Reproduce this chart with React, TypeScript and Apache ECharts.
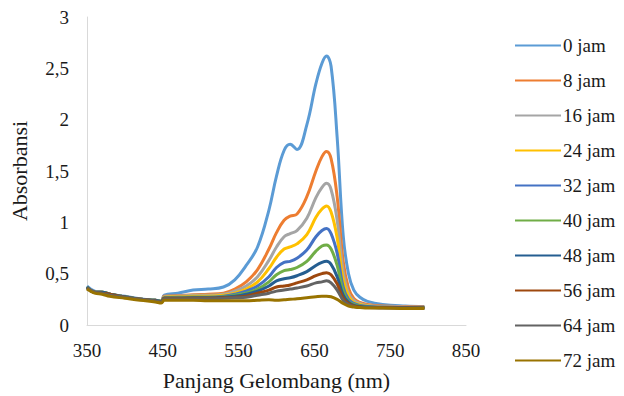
import React, { useEffect, useRef } from "react";
import * as echarts from "echarts";

const wavelengths = [350, 360, 370, 380, 400, 420, 440, 448, 452, 470, 490, 510, 530, 545, 560, 575, 590, 600, 610, 618, 627, 640, 652, 660, 666, 672, 680, 688, 695, 702, 710, 720, 740, 770, 795];

const seriesNames = ["0 jam", "8 jam", "16 jam", "24 jam", "32 jam", "40 jam", "48 jam", "56 jam", "64 jam", "72 jam"];
const seriesColors = ["#5B9BD5", "#ED7D31", "#A5A5A5", "#FFC000", "#4472C4", "#70AD47", "#255E91", "#9E480E", "#636363", "#997300"];

const jam0 = [0.38, 0.33, 0.32, 0.30, 0.28, 0.255, 0.24, 0.23, 0.29, 0.31, 0.34, 0.35, 0.37, 0.44, 0.58, 0.76, 1.12, 1.45, 1.70, 1.76, 1.71, 1.95, 2.35, 2.55, 2.62, 2.52, 1.83, 0.87, 0.50, 0.34, 0.27, 0.23, 0.20, 0.185, 0.18];
const jam8 = [0.37, 0.32, 0.32, 0.30, 0.275, 0.25, 0.24, 0.23, 0.28, 0.285, 0.295, 0.30, 0.31, 0.35, 0.42, 0.54, 0.74, 0.90, 1.02, 1.06, 1.08, 1.25, 1.50, 1.64, 1.69, 1.62, 1.25, 0.62, 0.36, 0.26, 0.22, 0.20, 0.185, 0.18, 0.175];
const jam16 = [0.37, 0.32, 0.32, 0.30, 0.275, 0.25, 0.24, 0.23, 0.275, 0.28, 0.29, 0.29, 0.30, 0.33, 0.38, 0.47, 0.63, 0.76, 0.86, 0.89, 0.92, 1.04, 1.24, 1.34, 1.38, 1.32, 1.02, 0.52, 0.31, 0.24, 0.21, 0.19, 0.18, 0.175, 0.17];
const jam24 = [0.37, 0.32, 0.32, 0.30, 0.275, 0.25, 0.24, 0.23, 0.27, 0.275, 0.28, 0.28, 0.29, 0.31, 0.35, 0.42, 0.55, 0.66, 0.74, 0.76, 0.79, 0.88, 1.05, 1.13, 1.16, 1.10, 0.85, 0.44, 0.28, 0.22, 0.20, 0.185, 0.175, 0.17, 0.17];
const jam32 = [0.37, 0.32, 0.32, 0.30, 0.275, 0.25, 0.24, 0.23, 0.265, 0.27, 0.27, 0.27, 0.28, 0.30, 0.33, 0.38, 0.47, 0.56, 0.61, 0.62, 0.65, 0.73, 0.86, 0.92, 0.94, 0.89, 0.70, 0.37, 0.25, 0.21, 0.19, 0.18, 0.175, 0.17, 0.17];
const jam40 = [0.37, 0.32, 0.32, 0.30, 0.275, 0.25, 0.24, 0.23, 0.265, 0.265, 0.27, 0.27, 0.275, 0.29, 0.31, 0.35, 0.42, 0.49, 0.53, 0.54, 0.56, 0.62, 0.72, 0.77, 0.78, 0.74, 0.58, 0.33, 0.23, 0.20, 0.185, 0.175, 0.17, 0.17, 0.17];
const jam48 = [0.37, 0.32, 0.32, 0.30, 0.275, 0.25, 0.24, 0.23, 0.26, 0.26, 0.265, 0.265, 0.27, 0.28, 0.30, 0.33, 0.38, 0.43, 0.45, 0.46, 0.48, 0.52, 0.58, 0.61, 0.62, 0.59, 0.47, 0.29, 0.22, 0.19, 0.18, 0.175, 0.17, 0.17, 0.165];
const jam56 = [0.36, 0.32, 0.31, 0.30, 0.27, 0.25, 0.235, 0.225, 0.26, 0.26, 0.26, 0.26, 0.265, 0.27, 0.28, 0.31, 0.34, 0.37, 0.38, 0.39, 0.41, 0.44, 0.48, 0.50, 0.51, 0.49, 0.40, 0.26, 0.21, 0.185, 0.175, 0.17, 0.17, 0.165, 0.165];
const jam64 = [0.36, 0.32, 0.31, 0.29, 0.27, 0.25, 0.235, 0.225, 0.255, 0.255, 0.255, 0.255, 0.26, 0.265, 0.27, 0.29, 0.31, 0.33, 0.34, 0.35, 0.36, 0.38, 0.41, 0.42, 0.43, 0.41, 0.34, 0.24, 0.20, 0.18, 0.17, 0.17, 0.165, 0.165, 0.16];
const jam72 = [0.35, 0.31, 0.30, 0.28, 0.26, 0.24, 0.225, 0.215, 0.24, 0.24, 0.24, 0.235, 0.235, 0.235, 0.235, 0.24, 0.245, 0.24, 0.245, 0.25, 0.255, 0.265, 0.275, 0.28, 0.28, 0.275, 0.25, 0.21, 0.185, 0.175, 0.17, 0.165, 0.165, 0.16, 0.16];

const seriesValues = [jam0, jam8, jam16, jam24, jam32, jam40, jam48, jam56, jam64, jam72];

const FONT = "Liberation Serif";

export default function App() {
  const ref = useRef<HTMLDivElement>(null);
  useEffect(() => {
    if (!ref.current) return;
    const chart = echarts.init(ref.current, null, { renderer: "svg" });
    chart.setOption({
      animation: false,
      backgroundColor: "#ffffff",
      textStyle: { fontFamily: FONT, color: "#1a1a1a" },
      grid: { left: 86, right: 158, top: 17, bottom: 65, containLabel: false },
      legend: {
        orient: "vertical",
        left: 515,
        top: 36,
        padding: 0,
        itemWidth: 46,
        itemHeight: 14,
        itemGap: 16,
        icon: "path://M0,6 L46,6 L46,8 L0,8 Z",
        textStyle: { fontFamily: FONT, fontSize: 19, lineHeight: 19, color: "#1a1a1a", padding: [0, 0, 0, -3] },
        data: seriesNames,
      },
      xAxis: {
        type: "value",
        min: 350,
        max: 850,
        interval: 100,
        name: "Panjang Gelombang (nm)",
        nameLocation: "middle",
        nameGap: 44,
        nameTextStyle: { fontFamily: FONT, fontSize: 22, color: "#1a1a1a" },
        axisLine: { show: true, lineStyle: { color: "#d9d9d9", width: 1 } },
        axisTick: { show: false },
        splitLine: { show: false },
        axisLabel: { fontFamily: FONT, fontSize: 19, color: "#1a1a1a", margin: 16 },
      },
      yAxis: {
        type: "value",
        min: 0,
        max: 3,
        interval: 0.5,
        name: "Absorbansi",
        nameLocation: "middle",
        nameGap: 57,
        nameTextStyle: { fontFamily: FONT, fontSize: 22, color: "#1a1a1a" },
        axisLine: { show: true, lineStyle: { color: "#d9d9d9", width: 1 } },
        axisTick: { show: false },
        splitLine: { show: false },
        axisLabel: {
          fontFamily: FONT,
          fontSize: 19,
          color: "#1a1a1a",
          margin: 18,
          formatter: (v: number) => String(v).replace(".", ","),
        },
      },
      series: seriesNames.map((name, i) => ({
        name,
        type: "line",
        smooth: 0.4,
        symbol: "none",
        color: seriesColors[i],
        lineStyle: { width: 3, color: seriesColors[i] },
        data: wavelengths.map((w, j) => [w, seriesValues[i][j]]),
      })),
    });
    return () => chart.dispose();
  }, []);
  return <div ref={ref} style={{ position: "fixed", left: 0, top: 0, width: 624, height: 396 }} />;
}
